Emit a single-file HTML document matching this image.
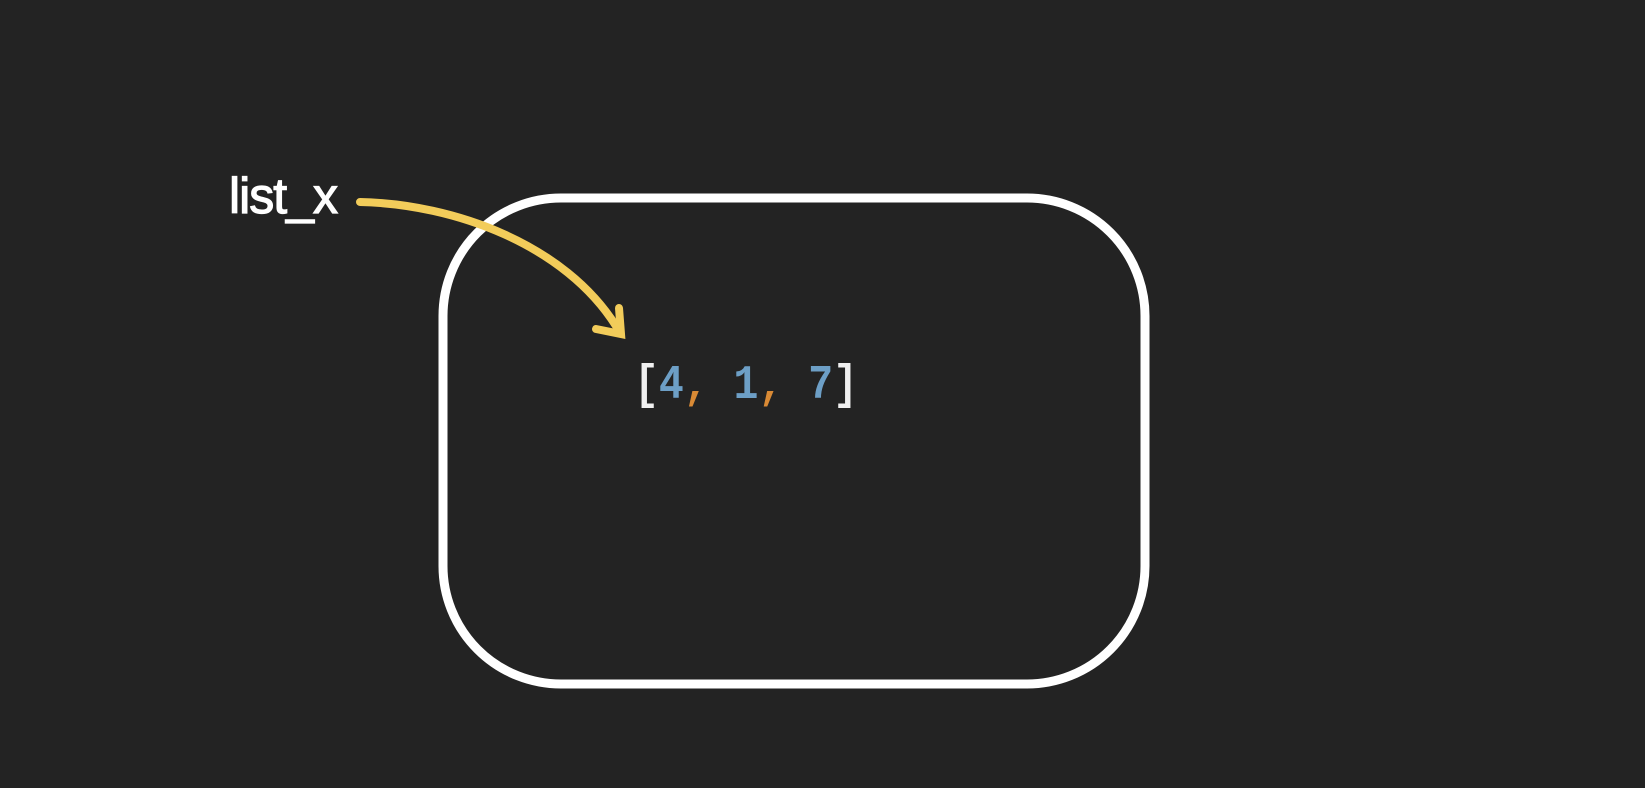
<!DOCTYPE html>
<html><head><meta charset="utf-8"><style>
html,body{margin:0;padding:0;background:#232323;}
svg{display:block;}
</style></head><body>
<svg width="1645" height="788" viewBox="0 0 1645 788">
<rect x="0" y="0" width="1645" height="788" fill="#232323"/>
<rect x="443" y="198" width="702" height="486" rx="118" ry="118" fill="none" stroke="#ffffff" stroke-width="9"/>
<text x="229" y="213" font-family="Liberation Sans, sans-serif" font-size="50" fill="#ffffff" stroke="#ffffff" stroke-width="1.2" textLength="109">list_x</text>
<path d="M360 202 C455 204 565 245 616 326" fill="none" stroke="#f2cc5a" stroke-width="8" stroke-linecap="round"/>
<path d="M596 329 L621 334 L619 308" fill="none" stroke="#f2cc5a" stroke-width="8" stroke-linecap="round" stroke-linejoin="miter"/>
<text x="634" y="398" font-family="Liberation Mono, monospace" font-size="48" font-weight="bold" textLength="224" lengthAdjust="spacingAndGlyphs"><tspan fill="#f0f0f0">[</tspan><tspan fill="#6d9fc6">4</tspan><tspan fill="#d98a35">,</tspan><tspan fill="#6d9fc6"> 1</tspan><tspan fill="#d98a35">,</tspan><tspan fill="#6d9fc6"> 7</tspan><tspan fill="#f0f0f0">]</tspan></text>
</svg>
</body></html>
